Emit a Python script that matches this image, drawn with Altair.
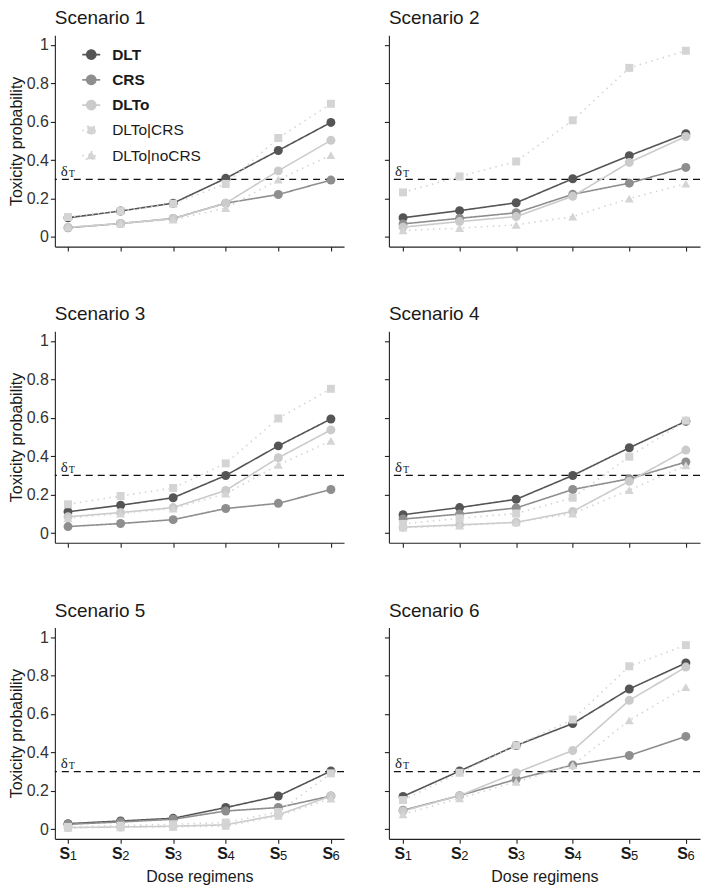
import altair as alt
import pandas as pd

# ---------------- data ----------------
series = ["DLT", "CRS", "DLTo", "DLTo|CRS", "DLTo|noCRS"]
bold_series = ["DLT", "CRS", "DLTo"]
doses = [1, 2, 3, 4, 5, 6]
scenario_titles = ["Scenario 1", "Scenario 2", "Scenario 3",
                   "Scenario 4", "Scenario 5", "Scenario 6"]
threshold = [0.3]
y_ticks = [0, 0.2, 0.4, 0.6, 0.8, 1]

scenario1 = {
    "DLT":        [0.100, 0.135, 0.176, 0.305, 0.450, 0.596],
    "CRS":        [0.048, 0.070, 0.096, 0.176, 0.221, 0.296],
    "DLTo":       [0.050, 0.070, 0.096, 0.176, 0.344, 0.503],
    "DLTo|CRS":   [0.104, 0.135, 0.173, 0.276, 0.515, 0.693],
    "DLTo|noCRS": [0.050, 0.070, 0.090, 0.150, 0.298, 0.426],
}
scenario2 = {
    "DLT":        [0.100, 0.137, 0.178, 0.303, 0.423, 0.537],
    "CRS":        [0.068, 0.097, 0.126, 0.222, 0.280, 0.362],
    "DLTo":       [0.051, 0.080, 0.106, 0.212, 0.388, 0.523],
    "DLTo|CRS":   [0.232, 0.315, 0.393, 0.607, 0.880, 0.969],
    "DLTo|noCRS": [0.034, 0.046, 0.063, 0.106, 0.200, 0.277],
}
scenario3 = {
    "DLT":        [0.111, 0.145, 0.184, 0.300, 0.454, 0.594],
    "CRS":        [0.034, 0.050, 0.070, 0.128, 0.155, 0.227],
    "DLTo":       [0.085, 0.107, 0.133, 0.222, 0.392, 0.537],
    "DLTo|CRS":   [0.150, 0.193, 0.235, 0.363, 0.597, 0.751],
    "DLTo|noCRS": [0.078, 0.102, 0.128, 0.205, 0.355, 0.480],
}
scenario4 = {
    "DLT":        [0.096, 0.133, 0.176, 0.300, 0.444, 0.582],
    "CRS":        [0.073, 0.099, 0.131, 0.227, 0.283, 0.370],
    "DLTo":       [0.031, 0.043, 0.056, 0.113, 0.270, 0.432],
    "DLTo|CRS":   [0.048, 0.077, 0.102, 0.184, 0.398, 0.585],
    "DLTo|noCRS": [0.029, 0.039, 0.056, 0.102, 0.224, 0.352],
}
scenario5 = {
    "DLT":        [0.029, 0.043, 0.057, 0.113, 0.173, 0.303],
    "CRS":        [0.026, 0.038, 0.052, 0.095, 0.113, 0.173],
    "DLTo":       [0.009, 0.012, 0.016, 0.023, 0.075, 0.173],
    "DLTo|CRS":   [0.012, 0.019, 0.026, 0.035, 0.090, 0.291],
    "DLTo|noCRS": [0.007, 0.010, 0.012, 0.017, 0.069, 0.160],
}
scenario6 = {
    "DLT":        [0.171, 0.303, 0.436, 0.550, 0.730, 0.865],
    "CRS":        [0.099, 0.175, 0.260, 0.334, 0.384, 0.483],
    "DLTo":       [0.095, 0.175, 0.294, 0.410, 0.671, 0.844],
    "DLTo|CRS":   [0.152, 0.294, 0.436, 0.571, 0.848, 0.958],
    "DLTo|noCRS": [0.078, 0.161, 0.247, 0.334, 0.567, 0.740],
}
scenarios = [scenario1, scenario2, scenario3, scenario4, scenario5, scenario6]

rows = []
for title, values in zip(scenario_titles, scenarios):
    for s in series:
        for d, p in zip(doses, values[s]):
            rows.append({"scenario": title, "series": s, "dose": d, "prob": p})
df = pd.DataFrame(rows)
thr_df = pd.DataFrame({"threshold": threshold})
key_df = pd.DataFrame({"series": series})

# ---------------- styles ----------------
FONT = "Liberation Sans"
TXT = "#1a1a1a"
series_colors = ["#555555", "#8e8e8e", "#cbcbcb", "#d4d4d4", "#d4d4d4"]
series_dashes = [[1, 0], [1, 0], [1, 0], [1.5, 4.5], [1.5, 4.5]]
series_markers = ["circle", "circle", "circle", "square", "triangle-up"]
marker_sizes = [81, 81, 81, 64, 80]
circ = "M0.5,0A0.5,0.5,0,1,1,-0.5,0A0.5,0.5,0,1,1,0.5,0Z"
legend_paths = [
    "M-1,0L1,0" + circ,
    "M-1,0L1,0" + circ,
    "M-1,0L1,0" + circ,
    "M-1,0L1,0M-0.42,-0.42L0.42,-0.42L0.42,0.42L-0.42,0.42Z",
    "M-1,0L1,0M0,-0.52L0.52,0.4L-0.52,0.4Z",
]
# the overlay legend skips its first key, so a blank key leads the list
bold_keys = ["\u200b"] + bold_series

xscale = alt.Scale(domain=[0.75, 6.25], nice=False, zero=False)
yscale = alt.Scale(domain=[-0.05, 1.05], nice=False, zero=False)

H = 212
LEFT_W = 290
RIGHT_W = 312
BOLD_TEST = "indexof(['DLT','CRS','DLTo'], datum.label) >= 0"


def panel(i, width, left, bottom):
    d = df[df["scenario"] == scenario_titles[i]]

    if left:
        y_axis = alt.Axis(values=y_ticks, format="~g", title="Toxicity probability",
                          titleFontSize=16, titleFontWeight="normal", titleColor=TXT,
                          titlePadding=2, labelFontSize=16, labelColor="#333333",
                          labelPadding=2, tickSize=4.5)
    else:
        y_axis = alt.Axis(values=y_ticks, labels=False, title=None, tickSize=4.5)

    if bottom:
        x_axis = alt.Axis(values=doses, labelExpr="'S'", labelFontSize=16,
                          labelFontWeight="bold", labelColor=TXT, labelPadding=1.7,
                          labelOffset=-3.7, labelOverlap=False, labelFlush=False,
                          tickSize=4.5, title="Dose regimens", titleFontSize=16,
                          titleFontWeight="normal", titleColor=TXT, titlePadding=8,
                          orient="bottom")
        sub_axis = alt.Axis(values=doses, format="d", labelFontSize=13,
                            labelColor=TXT, labelPadding=6.6, labelOffset=4.8,
                            labelOverlap=False, labelFlush=False,
                            tickSize=4.5, tickOpacity=0, domain=False, title=None,
                            orient="bottom")
        x_main = alt.X("dose:Q", scale=xscale, axis=x_axis)
        x_sub = alt.X("dose:Q", scale=xscale, axis=sub_axis)
        x_other = alt.X("dose:Q", scale=xscale, axis=None)
        x_dx = alt.X("dx:Q", scale=xscale, axis=None)
    else:
        x_axis = alt.Axis(values=doses, labels=False, tickSize=4.5, title=None)
        x_main = alt.X("dose:Q", scale=xscale, axis=x_axis)
        x_sub = x_main
        x_other = x_main
        x_dx = alt.X("dx:Q", scale=xscale, axis=x_axis)

    y_enc = alt.Y("prob:Q", scale=yscale, axis=y_axis)
    y_thr = alt.Y("threshold:Q", scale=yscale, axis=y_axis)

    hline = alt.Chart(thr_df).mark_rule(color="#111111", strokeWidth=1.3,
                                         strokeDash=[7, 5]).encode(y=y_thr)
    layers = [hline]
    for k, s in enumerate(series):
        sd = alt.Chart(d).transform_filter(alt.FieldEqualPredicate(field="series", equal=s))
        layers.append(sd.mark_line(color=series_colors[k], strokeWidth=1.6,
                                   strokeDash=series_dashes[k]).encode(
            x=x_main if k == 0 else x_other, y=y_enc))
    for k, s in enumerate(series):
        sd = alt.Chart(d).transform_filter(alt.FieldEqualPredicate(field="series", equal=s))
        layers.append(sd.mark_point(shape=series_markers[k], filled=True, opacity=1,
                                    size=marker_sizes[k], color=series_colors[k]).encode(
            x=x_sub if k == 0 else x_other, y=y_enc))

    delta = alt.Chart(thr_df).transform_calculate(dx="0.86").mark_text(
        text="δ", font="Liberation Serif", fontSize=15, color=TXT, align="left",
        baseline="alphabetic", dy=-3.5).encode(x=x_dx, y=y_thr)
    delta_t = alt.Chart(thr_df).transform_calculate(dx="0.86").mark_text(
        text="T", font="Liberation Serif", fontSize=10, color=TXT, align="left",
        baseline="alphabetic", dx=8, dy=-2.5).encode(x=x_dx, y=y_thr)
    layers += [delta, delta_t]

    if i == 0:
        common = dict(orient="none", legendX=26.5, legendY=9.5, title=None,
                      symbolSize=324, symbolStrokeWidth=1.7, labelFontSize=15.5,
                      labelFont=FONT, labelColor=TXT, labelOffset=11,
                      rowPadding=6.3, padding=0, labelLimit=200)
        # full key: line + marker symbols, plain labels for the conditional series
        leg = alt.Legend(labelExpr=f"{BOLD_TEST} ? '' : datum.label", **common)
        leg_layer = alt.Chart(key_df).transform_filter("false").mark_point(
            filled=True, opacity=1, strokeWidth=1.7).encode(
            fill=alt.Fill("series:N", scale=alt.Scale(domain=series, range=series_colors), legend=leg),
            stroke=alt.Stroke("series:N", scale=alt.Scale(domain=series, range=series_colors), legend=leg),
            strokeDash=alt.StrokeDash("series:N", scale=alt.Scale(domain=series, range=series_dashes), legend=leg),
            shape=alt.Shape("series:N", scale=alt.Scale(domain=series, range=legend_paths), legend=leg),
        )
        # bold labels of the three main series, overlaid on the first rows
        leg_bold = alt.Legend(labelFontWeight="bold", symbolOpacity=0, **common)
        bold_layer = alt.Chart(key_df).transform_filter("false").mark_point(
            filled=True).encode(
            opacity=alt.Opacity("series:N",
                                scale=alt.Scale(domain=bold_keys, range=[0, 0, 0, 0]),
                                legend=leg_bold),
        )
        layers += [leg_layer, bold_layer]

    ch = alt.layer(*layers).properties(
        width=width, height=H,
        title=alt.TitleParams(scenario_titles[i], anchor="start", frame="group",
                              fontSize=19, fontWeight="normal", font=FONT,
                              color=TXT, offset=7),
    )
    if bottom:
        ch = ch.resolve_scale(x="independent")
    return ch


rows_charts = []
for r in range(3):
    left_p = panel(2 * r, LEFT_W, True, r == 2)
    right_p = panel(2 * r + 1, RIGHT_W, False, r == 2)
    rows_charts.append(alt.hconcat(left_p, right_p, spacing=38))

chart = alt.vconcat(*rows_charts, spacing=53).properties(
    padding={"left": 0, "top": 0, "right": 0, "bottom": 0}
).configure_view(stroke=None).configure_axis(
    grid=False, domainColor="#222222", tickColor="#222222",
    domainWidth=1.1, tickWidth=1.1, labelFont=FONT, titleFont=FONT,
).configure_text(font=FONT)

chart.save("out.html", embed_options={"renderer": "svg", "actions": False})
